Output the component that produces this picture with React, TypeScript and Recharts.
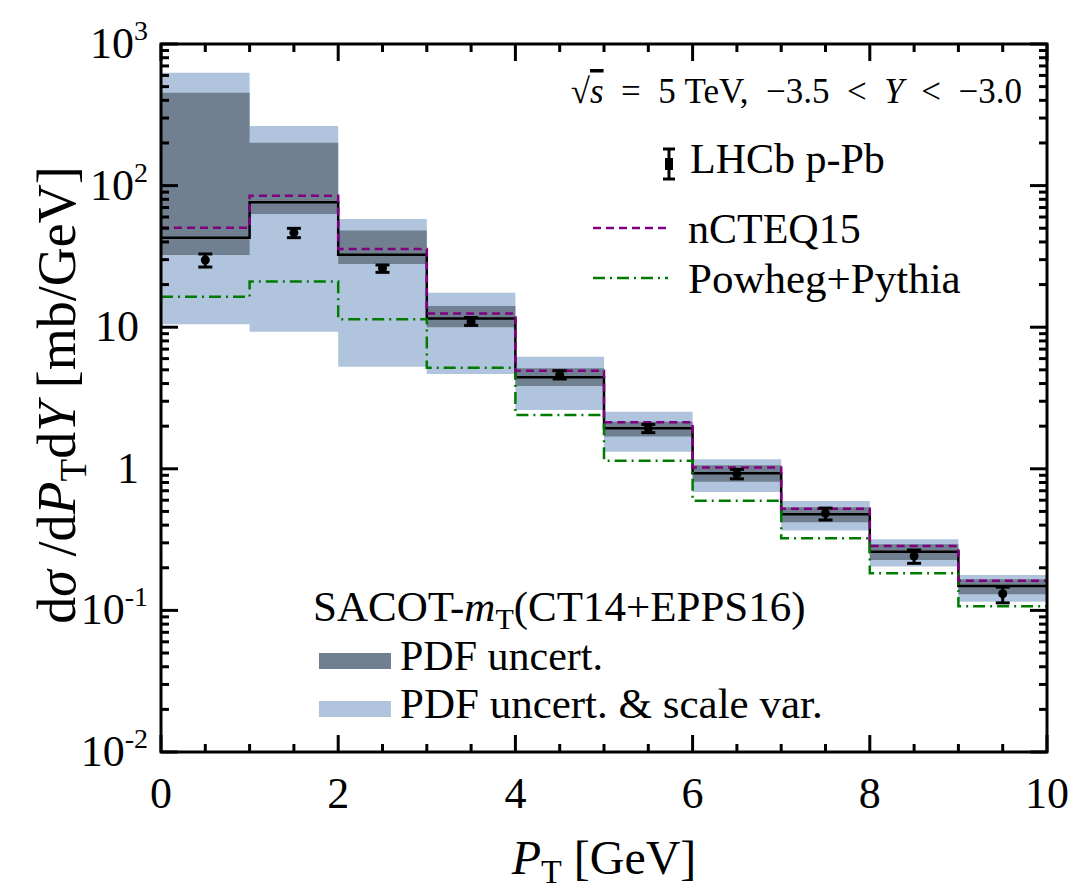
import React from 'react';
import { ComposedChart, Area, Line, Scatter, ErrorBar, XAxis, YAxis, ReferenceLine } from 'recharts';

const W = 1068;
const H = 891;
const PLOT_L = 161;
const PLOT_R = 1047;
const PLOT_T = 44;
const PLOT_B = 752;
const X_MIN = 0;
const X_MAX = 10;
const Y_MIN = 0.01;
const Y_MAX = 1000;
const FONT = '"Liberation Serif", "DejaVu Serif", serif';
const NB = '\u00A0';

// P_T bins [GeV]
const binEdges = [0, 1, 2, 3, 4, 5, 6, 7, 8, 9, 10];

// SACOT-mT (CT14+EPPS16) central value and bands [mb/GeV]
const central = [42.9, 76.2, 32.5, 11.5, 4.43, 1.93, 0.93, 0.478, 0.26, 0.149];
const pdfLow = [32.4, 63.0, 27.9, 10.0, 3.84, 1.69, 0.81, 0.419, 0.227, 0.13];
const pdfHigh = [453, 201, 48.1, 14.1, 5.13, 2.15, 1.06, 0.535, 0.293, 0.166];
const scaleLow = [10.5, 9.3, 5.26, 4.67, 2.6, 1.32, 0.686, 0.366, 0.204, 0.115];
const scaleHigh = [627, 264, 58.1, 17.5, 6.19, 2.53, 1.17, 0.593, 0.318, 0.178];

// other predictions
const ncteq = [50.4, 84.9, 35.7, 12.5, 4.93, 2.13, 1.02, 0.523, 0.285, 0.162];
const powheg = [16.4, 21.0, 11.4, 5.18, 2.4, 1.14, 0.596, 0.323, 0.183, 0.107];

// LHCb p-Pb data
const lhcbPt = [0.5, 1.5, 2.5, 3.5, 4.5, 5.5, 6.5, 7.5, 8.5, 9.5];
const lhcbVal = [29.8, 46.5, 26.1, 10.9, 4.6, 1.93, 0.92, 0.485, 0.242, 0.131];
const lhcbHigh = [32.9, 49.9, 27.5, 11.7, 4.93, 2.06, 0.99, 0.528, 0.267, 0.146];
const lhcbLow = [26.6, 42.9, 24.4, 10.3, 4.31, 1.8, 0.85, 0.435, 0.215, 0.113];

// axis ticks
const xTicks = [0, 0.5, 1, 1.5, 2, 2.5, 3, 3.5, 4, 4.5, 5, 5.5, 6, 6.5, 7, 7.5, 8, 8.5, 9, 9.5, 10];
const xLabels = [0, 2, 4, 6, 8, 10];
const yDecades = [0.01, 0.1, 1, 10, 100, 1000];
const yTicks: number[] = [];
yDecades.forEach((d, i) => {
  yTicks.push(d);
  if (i < yDecades.length - 1) {
    for (let m = 2; m <= 9; m++) yTicks.push(d * m);
  }
});

const stepRows = binEdges.map((x, i) => {
  const k = Math.min(i, central.length - 1);
  return {
    x,
    central: central[k],
    ncteq: ncteq[k],
    powheg: powheg[k],
    pdf: [pdfLow[k], pdfHigh[k]],
    scale: [scaleLow[k], scaleHigh[k]],
  };
});

const lhcbRows = lhcbPt.map((x, i) => ({
  x,
  y: lhcbVal[i],
  err: [lhcbVal[i] - lhcbLow[i], lhcbHigh[i] - lhcbVal[i]],
}));

const isDecade = (v: number) => Math.abs(Math.log10(v) - Math.round(Math.log10(v))) < 1e-6;

// same mapping as the chart axes (linear x, log y over the plot box)
const px = (v: number) => PLOT_L + ((v - X_MIN) / (X_MAX - X_MIN)) * (PLOT_R - PLOT_L);
const py = (v: number) =>
  PLOT_T + ((Math.log10(Y_MAX) - Math.log10(v)) / (Math.log10(Y_MAX) - Math.log10(Y_MIN))) * (PLOT_B - PLOT_T);

// horizontal reference line -> decade label
const yLabelShape = (v: number) => (p: any) => {
  const y = p.y1;
  const left = Math.min(p.x1, p.x2);
  const e = Math.round(Math.log10(v));
  const sup = e !== 0 && e !== 1;
  return (
    <text x={sup ? left - 13 : left - 22} y={y + 14} textAnchor="end" fontFamily={FONT} fontSize={44} fill="#000">
      {e === 0 ? '1' : '10'}
      {sup && (
        <tspan fontSize={28} dy={-18}>
          {e < 0 ? `-${-e}` : `${e}`}
        </tspan>
      )}
    </text>
  );
};

// vertical reference line -> x label
const xLabelShape = (v: number) => (p: any) => {
  const bottom = Math.max(p.y1, p.y2);
  return (
    <text x={p.x1} y={bottom + 56} textAnchor="middle" fontFamily={FONT} fontSize={44} fill="#000">
      {v}
    </text>
  );
};

const Overlay = () => (
  <svg
    width={W}
    height={H}
    style={{ position: 'absolute', left: 0, top: 0, pointerEvents: 'none' }}
    fontFamily={FONT}
  >
    {/* inward ticks on all four sides */}
    <g stroke="#000" strokeWidth={3}>
      {yTicks.map((v) => {
        const len = isDecade(v) ? 17 : 8;
        const y = py(v);
        return (
          <g key={`yt${v}`}>
            <line x1={PLOT_L} x2={PLOT_L + len} y1={y} y2={y} />
            <line x1={PLOT_R} x2={PLOT_R - len} y1={y} y2={y} />
          </g>
        );
      })}
      {xTicks.map((v) => {
        const len = v % 2 === 0 ? 17 : 8;
        const x = px(v);
        return (
          <g key={`xt${v}`}>
            <line x1={x} x2={x} y1={PLOT_B} y2={PLOT_B - len} />
            <line x1={x} x2={x} y1={PLOT_T} y2={PLOT_T + len} />
          </g>
        );
      })}
    </g>

    {/* y axis title */}
    <text transform="translate(75,395) rotate(-90)" textAnchor="middle" fontSize={54} fill="#000">
      d<tspan fontStyle="italic">σ</tspan>
      <tspan> /d</tspan>
      <tspan fontStyle="italic">P</tspan>
      <tspan fontSize={37} dy={11}>T</tspan>
      <tspan dy={-11}>d</tspan>
      <tspan fontStyle="italic">Y</tspan> [mb/GeV]
    </text>
    {/* x axis title */}
    <text x={604} y={874} textAnchor="middle" fontSize={48} fill="#000">
      <tspan fontStyle="italic">P</tspan>
      <tspan fontSize={34} dy={9}>T</tspan>
      <tspan dy={-9}> [GeV]</tspan>
    </text>

    {/* kinematics */}
    <text x={1022} y={103} textAnchor="end" fontSize={35} fill="#000">
      √<tspan fontStyle="italic" textDecoration="overline">s</tspan>
      {`${NB}${NB}=${NB}${NB}5${NB}TeV,${NB}${NB}−3.5${NB}${NB}<${NB}${NB}`}
      <tspan fontStyle="italic">Y</tspan>
      {`${NB}${NB}<${NB}${NB}−3.0`}
    </text>

    {/* upper legend */}
    <g stroke="#000" strokeWidth={3}>
      <line x1={669} x2={669} y1={149} y2={179} />
      <line x1={663} x2={675} y1={149} y2={149} />
      <line x1={663} x2={675} y1={179} y2={179} />
    </g>
    <rect x={665} y={158} width={8} height={12} fill="#000" />
    <text x={690} y={173} fontSize={42} fill="#000">LHCb p-Pb</text>

    <line x1={593} x2={668} y1={228} y2={228} stroke="#800080" strokeWidth={2.5} strokeDasharray="8 5" />
    <text x={688} y={243} fontSize={42} fill="#000">nCTEQ15</text>

    <line x1={593} x2={668} y1={278} y2={278} stroke="#007a00" strokeWidth={2.5} strokeDasharray="12 5 2 5" />
    <text x={688} y={293} fontSize={43} fill="#000">Powheg+Pythia</text>

    {/* lower legend */}
    <text x={313} y={621} fontSize={43} fill="#000">
      SACOT-<tspan fontStyle="italic">m</tspan>
      <tspan fontSize={30} dy={8}>T</tspan>
      <tspan dy={-8}>(CT14+EPPS16)</tspan>
    </text>
    <rect x={319} y={653} width={72} height={16} fill="#708090" />
    <text x={400} y={670} fontSize={42} fill="#000">PDF uncert.</text>
    <rect x={319} y={701} width={72} height={16} fill="#b0c4de" />
    <text x={400} y={718} fontSize={43} fill="#000">PDF uncert. &amp; scale var.</text>

    {/* plot frame */}
    <rect x={PLOT_L} y={PLOT_T} width={PLOT_R - PLOT_L} height={PLOT_B - PLOT_T} fill="none" stroke="#000" strokeWidth={3} />
  </svg>
);

export default function App() {
  return (
    <div style={{ position: 'absolute', left: 0, top: 0, width: W, height: H, background: '#fff' }}>
      <ComposedChart
        width={W}
        height={H}
        data={stepRows}
        margin={{ top: PLOT_T, right: W - PLOT_R, bottom: H - PLOT_B - 60, left: PLOT_L - 100 }}
      >
        <XAxis
          dataKey="x"
          type="number"
          domain={[X_MIN, X_MAX]}
          height={60}
          axisLine={false}
          tickLine={false}
          tick={false}
        />
        <YAxis
          type="number"
          scale="log"
          domain={[Y_MIN, Y_MAX]}
          allowDataOverflow
          width={100}
          axisLine={false}
          tickLine={false}
          tick={false}
        />
        <Area
          dataKey="scale"
          type="stepAfter"
          fill="#b0c4de"
          fillOpacity={1}
          stroke="none"
          isAnimationActive={false}
        />
        <Area
          dataKey="pdf"
          type="stepAfter"
          fill="#708090"
          fillOpacity={1}
          stroke="none"
          isAnimationActive={false}
        />
        <Line
          dataKey="central"
          type="stepAfter"
          stroke="#000"
          strokeWidth={2.5}
          dot={false}
          isAnimationActive={false}
        />
        <Line
          dataKey="powheg"
          type="stepAfter"
          stroke="#007a00"
          strokeWidth={2.5}
          strokeDasharray="12 5 2 5"
          dot={false}
          isAnimationActive={false}
        />
        <Line
          dataKey="ncteq"
          type="stepAfter"
          stroke="#800080"
          strokeWidth={2.5}
          strokeDasharray="8 5"
          dot={false}
          isAnimationActive={false}
        />
        <Scatter
          data={lhcbRows}
          dataKey="y"
          isAnimationActive={false}
          shape={(p: any) => <circle cx={p.cx} cy={p.cy} r={4.5} fill="#000" />}
        >
          <ErrorBar dataKey="err" direction="y" width={7} stroke="#000" strokeWidth={3} isAnimationActive={false} />
        </Scatter>
        {yDecades.map((v) => (
          <ReferenceLine key={`y${v}`} y={v} ifOverflow="visible" shape={yLabelShape(v)} />
        ))}
        {xLabels.map((v) => (
          <ReferenceLine key={`x${v}`} x={v} ifOverflow="visible" shape={xLabelShape(v)} />
        ))}
      </ComposedChart>
      <Overlay />
    </div>
  );
}
